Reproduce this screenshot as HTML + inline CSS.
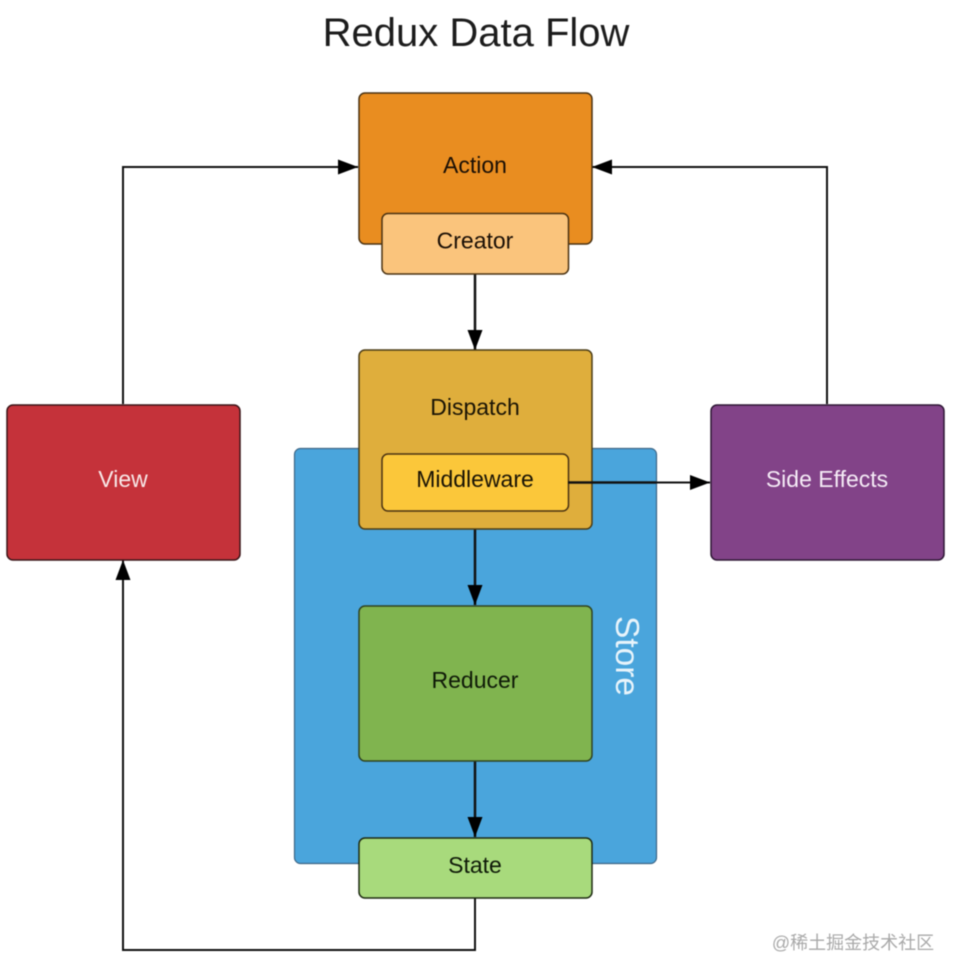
<!DOCTYPE html>
<html>
<head>
<meta charset="utf-8">
<style>
html,body{margin:0;padding:0;background:#fff;width:960px;height:979px;overflow:hidden}
svg{display:block;filter:blur(.4px)}
text{font-family:"Liberation Sans","Noto Sans CJK SC",sans-serif;text-anchor:middle}
</style>
</head>
<body>
<svg width="960" height="979" viewBox="0 0 960 979" xmlns="http://www.w3.org/2000/svg">
<defs>
<marker id="a" markerUnits="userSpaceOnUse" markerWidth="22" markerHeight="18" refX="20" refY="8" orient="auto">
<path d="M0 0.500L20 8L0 15.500Z" fill="#000"/>
</marker>
</defs>
<text x="476" y="46" font-size="40" fill="#1c1c1c">Redux Data Flow</text>

<rect x="294.500" y="448.500" width="362" height="415" rx="6" fill="#4aa5dc" stroke="#3c6585" stroke-width="1.200"/>
<text transform="translate(616 656) rotate(90)" font-size="33.500" fill="#e8f4fb">Store</text>

<path d="M123 404V167H358" fill="none" stroke="#111" stroke-width="2" marker-end="url(#a)"/>
<path d="M827 404V167H592" fill="none" stroke="#111" stroke-width="2" marker-end="url(#a)"/>
<path d="M475 274V350" fill="none" stroke="#111" stroke-width="2.500" marker-end="url(#a)"/>
<path d="M568 482.500H710" fill="none" stroke="#111" stroke-width="2" marker-end="url(#a)"/>
<path d="M475 529V605" fill="none" stroke="#111" stroke-width="2.500" marker-end="url(#a)"/>
<path d="M475 761V837" fill="none" stroke="#111" stroke-width="2.500" marker-end="url(#a)"/>
<path d="M475 898V950H123V560" fill="none" stroke="#111" stroke-width="2" marker-end="url(#a)"/>

<rect x="359" y="93" width="233" height="151" rx="6" fill="#e98d20" stroke="#4a3212" stroke-width="1.500"/>
<text x="475" y="173" font-size="23" fill="#1a0f05">Action</text>
<rect x="382" y="213.500" width="186.500" height="60.500" rx="6" fill="#fac47c" stroke="#4a3212" stroke-width="1.500"/>
<text x="475" y="248.500" font-size="23" fill="#1a0f05">Creator</text>

<rect x="359" y="350" width="233" height="179" rx="6" fill="#dfae3c" stroke="#4a3c16" stroke-width="1.500"/>
<text x="475" y="415" font-size="23" fill="#1a1405">Dispatch</text>
<rect x="382" y="454" width="186.500" height="57" rx="6" fill="#fbc73a" stroke="#4a3212" stroke-width="1.500"/>
<text x="475" y="487" font-size="23" fill="#1a1405">Middleware</text>

<path d="M568 482.500H656" fill="none" stroke="#111" stroke-width="2.400"/>

<rect x="7" y="405" width="233" height="155" rx="6" fill="#c5323a" stroke="#3b1518" stroke-width="1.500"/>
<text x="123" y="487" font-size="23" fill="#f8e8e8">View</text>

<rect x="711" y="405" width="233" height="155" rx="6" fill="#824388" stroke="#2e1735" stroke-width="1.500"/>
<text x="827" y="487" font-size="23" fill="#f5ebf6">Side Effects</text>

<rect x="359" y="606" width="233" height="155" rx="6" fill="#80b44f" stroke="#2f4220" stroke-width="1.500"/>
<text x="475" y="688" font-size="23" fill="#0f1a08">Reducer</text>

<rect x="359" y="838" width="233" height="60" rx="6" fill="#a8da7c" stroke="#1d2a12" stroke-width="1.500"/>
<text x="475" y="873" font-size="23" fill="#0f1a08">State</text>

<text x="853" y="949" font-size="18" fill="#a9a9a9">@稀土掘金技术社区</text>
</svg>
</body>
</html>
